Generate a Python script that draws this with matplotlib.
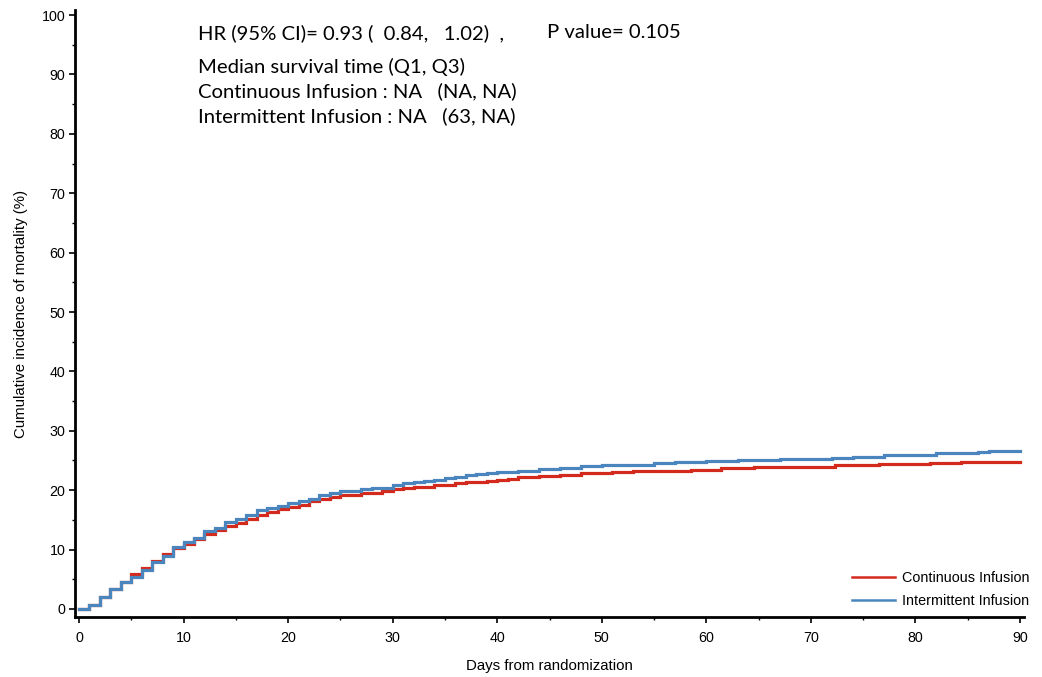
import matplotlib
matplotlib.use("Agg")
import matplotlib.pyplot as plt
from matplotlib.ticker import MultipleLocator

# ---- data ----
cont_days = [0, 1, 2, 3, 4, 5, 6, 7, 8, 9, 10, 11, 12, 13, 14, 15, 16, 17, 18, 19, 20,
             21, 22, 23, 24, 25, 27, 29, 30, 31, 32, 34, 36, 37, 39, 40, 41, 42, 44, 46,
             48, 51, 53, 58.5, 61.4, 64.6, 72.3, 76.5, 81.4, 84.4, 90]
cont_pct = [0, 0.6, 2.0, 3.3, 4.5, 5.85, 6.85, 8.1, 9.3, 10.2, 10.9, 11.7, 12.6, 13.3, 13.9,
            14.4, 15.15, 15.8, 16.4, 16.8, 17.1, 17.5, 18.2, 18.5, 18.9, 19.2, 19.6, 19.9,
            20.15, 20.4, 20.6, 20.9, 21.2, 21.4, 21.6, 21.8, 21.95, 22.2, 22.4, 22.6, 22.85,
            23.0, 23.2, 23.4, 23.7, 23.96, 24.2, 24.4, 24.6, 24.75, 24.75]

int_days = [0, 1, 2, 3, 4, 5, 6, 7, 8, 9, 10, 11, 12, 13, 14, 15, 16, 17, 18, 19, 20, 21,
            22, 23, 24, 25, 27, 28, 30, 31, 32, 33, 34, 35, 36, 37, 38, 39, 40, 42, 44, 46,
            48, 50, 53, 55, 57, 60, 63, 67, 72, 74, 77, 79, 82, 86, 87, 90]
int_pct = [0, 0.6, 2.0, 3.3, 4.5, 5.4, 6.5, 7.85, 9.0, 10.4, 11.2, 12.0, 13.1, 13.7, 14.7,
           15.1, 15.9, 16.7, 17.0, 17.3, 17.8, 18.1, 18.6, 19.2, 19.6, 19.9, 20.2, 20.4,
           20.9, 21.2, 21.4, 21.6, 21.8, 22.0, 22.3, 22.5, 22.7, 22.95, 23.1, 23.3, 23.5,
           23.8, 24.0, 24.2, 24.3, 24.5, 24.7, 24.9, 25.1, 25.25, 25.4, 25.6, 25.85, 26.0,
           26.25, 26.4, 26.65, 26.65]

series_names = ["Continuous Infusion", "Intermittent Infusion"]
x_ticks = list(range(0, 91, 10))
y_ticks = list(range(0, 101, 10))

annot_hr = "HR (95% CI)= 0.93 (  0.84,   1.02)  ,"
annot_p = "P value= 0.105"
annot_lines = ["Median survival time (Q1, Q3)",
               "Continuous Infusion : NA   (NA, NA)",
               "Intermittent Infusion : NA   (63, NA)"]

RED = "#d42a1e"
BLUE = "#4a86bd"

W, H = 1042, 677
fig = plt.figure(figsize=(W / 100, H / 100), dpi=100)
plt.rcParams['font.family'] = ['Liberation Sans', 'DejaVu Sans']
ax = fig.add_axes([75 / W, 1 - 617 / H, (1024 - 75) / W, (617 - 10) / H])

ax.step(cont_days, cont_pct, where="post", color=RED, lw=2.3, label=series_names[0],
        solid_joinstyle="miter")
ax.step(int_days, int_pct, where="post", color=BLUE, lw=2.3, label=series_names[1],
        solid_joinstyle="miter")

ax.set_xlim(-0.38, 90.38)
ax.set_ylim(-1.35, 100.85)
ax.set_xticks(x_ticks)
ax.set_yticks(y_ticks)
ax.xaxis.set_minor_locator(MultipleLocator(5))
ax.yaxis.set_minor_locator(MultipleLocator(5))
ax.tick_params(which="major", length=4, width=1.2, labelsize=10.3, color="black")
ax.tick_params(axis="x", which="major", pad=6)
ax.tick_params(axis="y", which="major", pad=3)
ax.tick_params(which="minor", length=2.5, width=1.0, color="black")
for s in ["top", "right"]:
    ax.spines[s].set_visible(False)
for s in ["left", "bottom"]:
    ax.spines[s].set_linewidth(2.0)

ax.set_xlabel("Days from randomization", fontsize=10.8, labelpad=10)
ax.set_ylabel("Cumulative incidence of mortality (%)", fontsize=10.8, labelpad=10)

leg = ax.legend(loc="lower right", bbox_to_anchor=(1.019, -0.006), frameon=False,
                fontsize=10.4, handlelength=3.0, handletextpad=0.45, labelspacing=0.58)
for l in leg.get_lines():
    l.set_linewidth(1.8)

tfam = ['Lato', 'DejaVu Sans']
fs = 14.6
fig.text(198 / W, 1 - 33 / H, annot_hr, fontsize=fs, family=tfam, va="center")
fig.text(547 / W, 1 - 33 / H, annot_p, fontsize=fs, family=tfam, va="center")
for i, t in enumerate(annot_lines):
    fig.text(198 / W, 1 - (67 + 24.5 * i) / H, t, fontsize=fs, family=tfam, va="center")

fig.savefig("out.png", dpi=100)
